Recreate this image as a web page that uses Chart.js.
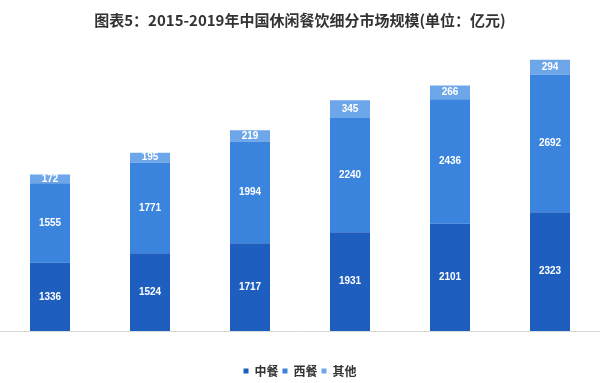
<!DOCTYPE html>
<html>
<head>
<meta charset="utf-8">
<script src="https://cdn.jsdelivr.net/npm/chart.js@4"></script>
<style>
  html, body { margin: 0; padding: 0; background: #ffffff; overflow: hidden; width: 600px; height: 383px; }
  #wrap { width: 600px; height: 387px; position: relative; }
</style>
</head>
<body>
<div id="wrap"><canvas id="c"></canvas></div>
<script>
const titleText = '图表5：2015-2019年中国休闲餐饮细分市场规模(单位：亿元)';
const categories = ['2014', '2015', '2016', '2017', '2018', '2019'];
const seriesNames = ['中餐', '西餐', '其他'];
const chineseFood = [1336, 1524, 1717, 1931, 2101, 2323];
const westernFood = [1555, 1771, 1994, 2240, 2436, 2692];
const otherFood = [172, 195, 219, 345, 266, 294];
const seriesColors = ['#1E5EBF', '#3A84DD', '#6EA6EA'];

const valueLabels = {
  id: 'valueLabels',
  afterDatasetsDraw(chart) {
    const ctx = chart.ctx;
    ctx.save();
    ctx.font = 'bold 10px "Liberation Sans", Arial, sans-serif';
    ctx.fillStyle = '#ffffff';
    ctx.textAlign = 'center';
    ctx.textBaseline = 'middle';
    chart.data.datasets.forEach((ds, di) => {
      const meta = chart.getDatasetMeta(di);
      meta.data.forEach((el, i) => {
        const p = el.getProps(['x', 'y', 'base'], true);
        ctx.fillText(String(ds.data[i]), p.x, (p.y + p.base) / 2);
      });
    });
    ctx.restore();
  }
};

new Chart(document.getElementById('c'), {
  type: 'bar',
  data: {
    labels: categories,
    datasets: [
      { label: seriesNames[0], data: chineseFood, backgroundColor: seriesColors[0] },
      { label: seriesNames[1], data: westernFood, backgroundColor: seriesColors[1] },
      { label: seriesNames[2], data: otherFood, backgroundColor: seriesColors[2] }
    ]
  },
  options: {
    responsive: true,
    maintainAspectRatio: false,
    animation: false,
    devicePixelRatio: 1,
    layout: { padding: 0 },
    datasets: { bar: { barPercentage: 0.4, categoryPercentage: 1.0 } },
    scales: {
      x: {
        stacked: true,
        ticks: { display: false },
        grid: { display: false, drawTicks: true, tickLength: 30 },
        border: { display: true, color: '#d9d9d9', width: 1 }
      },
      y: {
        stacked: true,
        display: false,
        min: 0,
        max: 5500
      }
    },
    plugins: {
      title: {
        display: true,
        text: titleText,
        color: '#333333',
        font: { family: '"Noto Sans CJK SC", sans-serif', size: 15, weight: 'bold', lineHeight: 1.2 },
        padding: { top: 11, bottom: 21 }
      },
      legend: {
        display: true,
        position: 'bottom',
        labels: {
          boxWidth: 5,
          boxHeight: 5,
          padding: 4,
          color: '#333333',
          font: { family: '"Noto Sans CJK SC", sans-serif', size: 12, weight: 'bold' }
        }
      },
      tooltip: { enabled: false }
    }
  },
  plugins: [valueLabels]
});
</script>
</body>
</html>
